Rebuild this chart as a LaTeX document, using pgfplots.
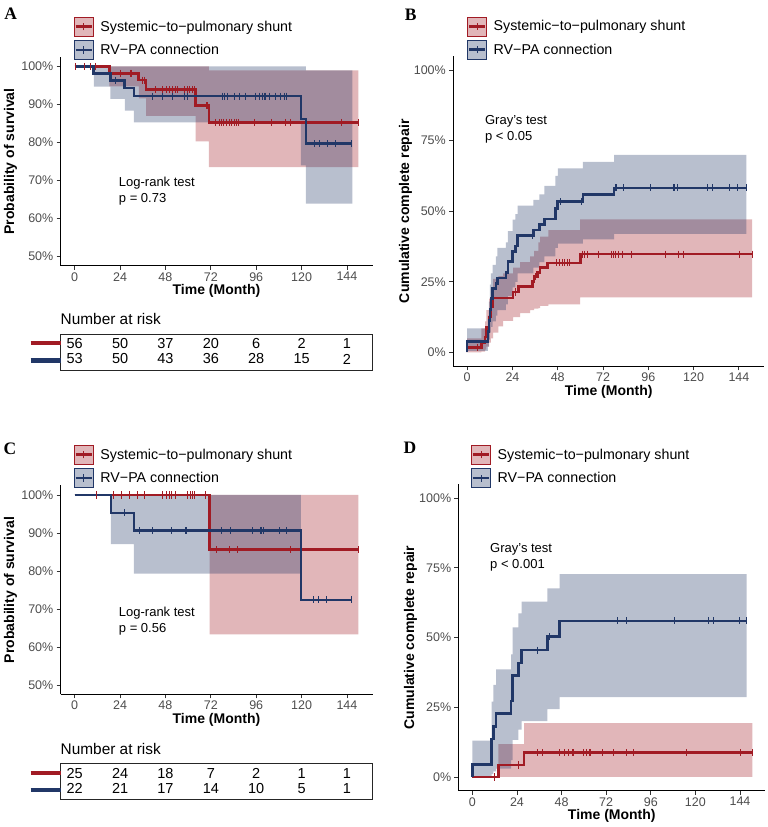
\documentclass[border=0pt]{standalone}
\usepackage{fontspec}
\setmainfont{Liberation Sans}
\newfontfamily\letterfont{Liberation Serif}
\usepackage{pgfplots}
\usepackage{pgfplotstable}
\pgfplotsset{compat=1.18}
\usepgfplotslibrary{fillbetween}

\definecolor{cRed}{RGB}{161,27,36}
\definecolor{cBlue}{RGB}{33,55,103}
\definecolor{tickgray}{RGB}{77,77,77}

% ---------- Panel A: overall survival ----------
\pgfplotstableread{
t S
0 1
18.4 0.982
33.9 0.964
37.8 0.939
63.9 0.897
71.0 0.853
150 0.853
}\kmAred
\pgfplotstableread{
t lo up
0 1 1
18.4 0.948 1
33.9 0.916 1
37.8 0.870 1
63.9 0.803 1
71.0 0.735 0.99
150 0.735 0.99
}\ciAred
\pgfplotstableread{
t S
0 1
10.1 0.981
18.9 0.963
26.5 0.943
31.3 0.922
119.6 0.862
122.3 0.797
146.9 0.797
}\kmAblue
\pgfplotstableread{
t lo up
0 1 1
10.1 0.947 1
18.9 0.915 1
26.5 0.884 1
31.3 0.853 1
119.6 0.74 1
122.3 0.639 0.99
146.9 0.639 0.99
}\ciAblue
\pgfplotstableread{
t S
0.3 1
5.3 1
8.1 1
10.8 1
24.2 0.982
29.5 0.982
30.2 0.982
35.7 0.964
37.0 0.964
42.7 0.939
46.6 0.939
48.4 0.939
50.2 0.939
51.6 0.939
53.3 0.939
54.2 0.939
57.8 0.939
59.5 0.939
60.8 0.939
62.2 0.939
63.1 0.939
69.6 0.897
70.4 0.897
74.5 0.853
76.3 0.853
77.7 0.853
78.9 0.853
80.4 0.853
81.6 0.853
83.0 0.853
84.3 0.853
85.5 0.853
86.6 0.853
94.9 0.853
104.2 0.853
111.3 0.853
114.3 0.853
141.3 0.853
150 0.853
}\cenAred
\pgfplotstableread{
t S
21.6 0.963
40.9 0.922
46.3 0.922
51.6 0.922
57.8 0.922
59.5 0.922
78.1 0.922
79.0 0.922
80.8 0.922
84.3 0.922
87.0 0.922
90.5 0.922
95.8 0.922
97.5 0.922
99.3 0.922
100.2 0.922
101.1 0.922
102.9 0.922
106.4 0.922
109.0 0.922
110.8 0.922
112.0 0.922
126.6 0.797
129.3 0.797
133.7 0.797
138.1 0.797
146.6 0.797
}\cenAblue
\pgfplotstableread{
t red blue
0 56 53
24 50 50
48 37 43
72 20 36
96 6 28
120 2 15
144 1 2
}\riskA

% ---------- Panel B: cumulative complete repair ----------
\pgfplotstableread{
t F
0 0
0 0.018
7.5 0.036
9.5 0.054
10.2 0.09
11.6 0.126
12.6 0.162
13.5 0.193
24.3 0.214
27.1 0.234
34.6 0.252
35.5 0.268
37.2 0.283
38.7 0.30
42.6 0.317
60.2 0.348
151 0.348
}\kmBred
\pgfplotstableread{
t lo up
0 0 0.05
7.5 0.003 0.085
9.5 0.01 0.11
10.2 0.02 0.15
11.6 0.035 0.19
12.6 0.05 0.225
13.8 0.07 0.26
16.5 0.092 0.27
19.1 0.112 0.28
24.4 0.125 0.30
28 0.139 0.32
33.3 0.15 0.34
35.5 0.155 0.36
37.7 0.157 0.39
38.7 0.165 0.41
43 0.17 0.433
59.9 0.195 0.471
151 0.195 0.471
}\ciBred
\pgfplotstableread{
t F
0 0
0 0.038
11 0.075
11.5 0.113
12 0.151
12.6 0.19
13.5 0.227
15.2 0.245
16 0.264
20.5 0.283
21.6 0.321
24.1 0.358
25.5 0.377
26.7 0.415
35.1 0.434
38.3 0.453
40.9 0.472
46.8 0.51
48 0.534
61.3 0.56
77.9 0.583
148 0.583
}\kmBblue
\pgfplotstableread{
t lo up
0 0.005 0.085
11 0.02 0.13
11.5 0.045 0.18
12 0.07 0.24
12.6 0.09 0.28
13.5 0.11 0.31
15.2 0.13 0.34
16 0.15 0.37
20.5 0.17 0.39
21.6 0.20 0.43
24.1 0.23 0.47
25.5 0.25 0.49
26.7 0.28 0.52
35.1 0.30 0.54
38.3 0.32 0.56
40.9 0.34 0.59
46.8 0.37 0.625
48 0.385 0.652
61.3 0.40 0.675
77.9 0.42 0.70
148 0.42 0.70
}\ciBblue
\pgfplotstableread{
t F
5.5 0.018
25.5 0.214
36.0 0.268
47.2 0.317
49.0 0.317
50.4 0.317
51.6 0.317
52.9 0.317
54.3 0.317
61.2 0.348
62.3 0.348
63.5 0.348
69.5 0.348
76.3 0.348
77.6 0.348
78.8 0.348
80.2 0.348
82.5 0.348
86.8 0.348
104.9 0.348
112.0 0.348
114.6 0.348
144.4 0.348
151 0.348
}\cenBred
\pgfplotstableread{
t F
34.5 0.415
49.2 0.534
60.8 0.534
78.6 0.583
79.3 0.583
82.9 0.583
97.1 0.583
109.1 0.583
109.8 0.583
111.2 0.583
127.2 0.583
129.8 0.583
139.2 0.583
143.1 0.583
148 0.583
}\cenBblue

% ---------- Panel C: subgroup survival ----------
\pgfplotstableread{
t S
0 1
71.4 0.856
150 0.856
}\kmCred
\pgfplotstableread{
t lo up
0 1 1
71.4 0.633 1
150 0.633 1
}\ciCred
\pgfplotstableread{
t S
0 1
19.2 0.953
31.3 0.906
119.6 0.724
146.9 0.724
}\kmCblue
\pgfplotstableread{
t lo up
0 1 1
19.2 0.871 1
31.3 0.793 1
119.6 0.793 1
}\ciCblue
\pgfplotstableread{
t S
11.5 1
20.3 1
24.7 1
29.1 1
33.0 1
37.1 1
46.6 1
48.4 1
50.2 1
51.2 1
53.4 1
59.5 1
61.0 1
62.2 1
63.1 1
69.3 1
74.9 0.856
82.0 0.856
86.0 0.856
114.0 0.856
150 0.856
}\cenCred
\pgfplotstableread{
t S
26.3 0.953
34.1 0.906
41.0 0.906
51.2 0.906
58.7 0.906
59.0 0.906
77.5 0.906
82.5 0.906
94.0 0.906
98.0 0.906
98.7 0.906
99.6 0.906
108.1 0.906
112.2 0.906
126.3 0.724
129.0 0.724
133.2 0.724
146.6 0.724
}\cenCblue
\pgfplotstableread{
t red blue
0 25 22
24 24 21
48 18 17
72 7 14
96 2 10
120 1 5
144 1 1
}\riskC

% ---------- Panel D: subgroup cumulative complete repair ----------
\pgfplotstableread{
t F
0 0
14 0.043
27.8 0.087
150.6 0.087
}\kmDred
\pgfplotstableread{
t lo up
0 0 0
14 0 0.118
27.8 0 0.193
150.6 0 0.193
}\ciDred
\pgfplotstableread{
t F
0 0
0 0.045
10.4 0.136
11.3 0.182
12.8 0.227
20.8 0.273
21.7 0.364
24.8 0.409
26.5 0.455
40.3 0.503
47 0.56
147.6 0.56
}\kmDblue
\pgfplotstableread{
t lo up
0 0 0.13
10.4 0.01 0.27
11.3 0.02 0.33
12.8 0.03 0.386
20.8 0.06 0.44
21.7 0.133 0.537
24.8 0.17 0.587
26.5 0.2 0.629
40.3 0.243 0.677
47 0.286 0.728
147.6 0.286 0.728
}\ciDblue
\pgfplotstableread{
t F
11.8 0
24.8 0.043
35 0.087
37.7 0.087
46.8 0.087
49.5 0.087
51.6 0.087
53.8 0.087
54.5 0.087
59.7 0.087
61.5 0.087
62.9 0.087
63.6 0.087
69.9 0.087
75.8 0.087
82.9 0.087
86.7 0.087
115.1 0.087
144.4 0.087
150.6 0.087
}\cenDred
\pgfplotstableread{
t F
35 0.455
41.6 0.503
78 0.56
82.9 0.56
108.9 0.56
126.8 0.56
129.6 0.56
143.5 0.56
147.6 0.56
}\cenDblue

\pgfplotsset{
  kmbase/.style={
    scale only axis,
    xmin=-7.5, xmax=157.5,
    axis lines=left,
    axis line style={-, line width=1pt, black},
    tick align=outside,
    major tick length=4bp,
    tick style={line width=0.9pt, black!80},
    xtick={0,24,48,72,96,120,144},
    xticklabels={0,24,48,72,96,120,144},
    tick label style={font=\fontsize{12.5bp}{15bp}\selectfont, text=tickgray},
    xticklabel style={anchor=north, inner sep=0pt, yshift=-2.2bp},
    yticklabel style={anchor=east, inner sep=0pt, xshift=-3bp},
    legend style={draw=none, fill=none, anchor=north west, inner sep=0pt,
      outer sep=0pt, row sep=4bp, column sep=7bp,
      font=\fontsize{14.25bp}{17bp}\selectfont, nodes={inner sep=0pt}},
    legend cell align=left,
  },
  survaxis/.style={kmbase, width=312bp, height=209bp, ymin=0.475, ymax=1.025,
    ytick={0.5,0.6,0.7,0.8,0.9,1},
    yticklabels={50\%,60\%,70\%,80\%,90\%,100\%}},
  ciaxis/.style={kmbase, ymin=-0.05, ymax=1.05,
    ytick={0,0.25,0.5,0.75,1},
    yticklabels={0\%,25\%,50\%,75\%,100\%}},
  kmline/.style={const plot, line width=2.6pt},
  band/.style={draw=none, fill opacity=0.32},
  cens/.style={only marks, mark=|, mark size=3.6bp, mark options={line width=0.9pt}},
  keyred/.style={legend image code/.code={
    \fill[cRed, fill opacity=0.32] (0bp,-9.5bp) rectangle (19bp,9.5bp);
    \draw[cRed, line width=2.6pt] (1.5bp,0bp) -- (17.5bp,0bp);
    \draw[cRed, line width=0.9pt] (9.5bp,-3.6bp) -- (9.5bp,3.6bp);}},
  keyblue/.style={legend image code/.code={
    \fill[cBlue, fill opacity=0.32] (0bp,-9.5bp) rectangle (19bp,9.5bp);
    \draw[cBlue, line width=2.6pt] (1.5bp,0bp) -- (17.5bp,0bp);
    \draw[cBlue, line width=0.9pt] (9.5bp,-3.6bp) -- (9.5bp,3.6bp);}},
  riskbox/.style={scale only axis, width=312bp, height=36bp,
    xmin=-7.5, xmax=157.5, ymin=0, ymax=36, xtick=\empty, ytick=\empty,
    axis line style={line width=0.9pt, black!85}, clip=false},
  risknum/.style={draw=none, mark=none, nodes near coords,
    point meta=explicit symbolic, nodes near coords align={center},
    every node near coord/.append style={anchor=center, inner sep=0pt, text=black,
      font=\fontsize{14.5bp}{17bp}\selectfont}},
}

\newcommand{\axtitle}{\bfseries\fontsize{14bp}{17bp}\selectfont}
\newcommand{\notefont}{\fontsize{13bp}{16bp}\selectfont}
\newcommand{\panelfont}{\letterfont\bfseries\fontsize{17.5bp}{20bp}\selectfont}

\begin{document}
\begin{tikzpicture}

% ===== A =====
\begin{axis}[survaxis, name=A, at={(60.5bp,561bp)}, anchor=south west,
  legend style={at={(axis description cs:0.0433,1.1914)}}]
  \addlegendimage{keyred}\addlegendentry{Systemic−to−pulmonary shunt}
  \addlegendimage{keyblue}\addlegendentry{RV−PA connection}
  \addplot[kmline, cRed] table[x=t, y=S] {\kmAred};
  \addplot[kmline, cBlue] table[x=t, y=S] {\kmAblue};
  \addplot[draw=none, const plot, name path=arU] table[x=t, y=up] {\ciAred};
  \addplot[draw=none, const plot, name path=arL] table[x=t, y=lo] {\ciAred};
  \addplot[band, fill=cRed] fill between[of=arU and arL];
  \addplot[draw=none, const plot, name path=abU] table[x=t, y=up] {\ciAblue};
  \addplot[draw=none, const plot, name path=abL] table[x=t, y=lo] {\ciAblue};
  \addplot[band, fill=cBlue] fill between[of=abU and abL];
  \addplot[cens, cRed] table[x=t, y=S] {\cenAred};
  \addplot[cens, cBlue] table[x=t, y=S] {\cenAblue};
  \node[anchor=north west, inner sep=0pt, align=left, font=\notefont]
    at (axis cs:23.3,0.709) {Log-rank test\\p = 0.73};
\end{axis}
\node[rotate=90, font=\axtitle] at ([xshift=-50bp]A.west) {Probability of survival};
\node[font=\axtitle] at ([yshift=-25bp]A.south) {Time (Month)};
\node[font=\panelfont] at (10.8bp,812.8bp) {A};

\begin{axis}[riskbox, name=rA, at={(60.5bp,457bp)}, anchor=south west]
  \addplot[cRed, line width=4.3bp] coordinates {(-23.3,27) (-7.5,27)};
  \addplot[cBlue, line width=4.3bp] coordinates {(-23.3,9.5) (-7.5,9.5)};
  \addplot[risknum] table[x=t, y expr=26.5, meta=red] {\riskA};
  \addplot[risknum] table[x=t, y expr=11, meta=blue] {\riskA};
\end{axis}
\node[anchor=west, inner sep=0pt, font=\fontsize{15.4bp}{18bp}\selectfont]
  at ([yshift=14.5bp]rA.north west) {Number at risk};

% ===== B =====
\begin{axis}[ciaxis, name=B, at={(453bp,460.5bp)}, anchor=south west,
  width=311.4bp, height=310.5bp,
  legend style={at={(axis description cs:0.0459,1.1266)}}]
  \addlegendimage{keyred}\addlegendentry{Systemic−to−pulmonary shunt}
  \addlegendimage{keyblue}\addlegendentry{RV−PA connection}
  \addplot[kmline, cRed] table[x=t, y=F] {\kmBred};
  \addplot[kmline, cBlue] table[x=t, y=F] {\kmBblue};
  \addplot[draw=none, const plot, name path=brU] table[x=t, y=up] {\ciBred};
  \addplot[draw=none, const plot, name path=brL] table[x=t, y=lo] {\ciBred};
  \addplot[band, fill=cRed] fill between[of=brU and brL];
  \addplot[draw=none, const plot, name path=bbU] table[x=t, y=up] {\ciBblue};
  \addplot[draw=none, const plot, name path=bbL] table[x=t, y=lo] {\ciBblue};
  \addplot[band, fill=cBlue] fill between[of=bbU and bbL];
  \addplot[cens, cRed] table[x=t, y=F] {\cenBred};
  \addplot[cens, cBlue] table[x=t, y=F] {\cenBblue};
  \node[anchor=north west, inner sep=0pt, align=left, font=\notefont]
    at (axis cs:9.4,0.84) {Gray's test\\p < 0.05};
\end{axis}
\node[rotate=90, font=\axtitle] at ([xshift=-47.5bp]B.west) {Cumulative complete repair};
\node[font=\axtitle] at ([yshift=-25bp]B.south) {Time (Month)};
\node[font=\panelfont] at (410.7bp,812.5bp) {B};

% ===== C =====
\begin{axis}[survaxis, name=C, at={(60.5bp,132.5bp)}, anchor=south west,
  legend style={at={(axis description cs:0.0433,1.1938)}}]
  \addlegendimage{keyred}\addlegendentry{Systemic−to−pulmonary shunt}
  \addlegendimage{keyblue}\addlegendentry{RV−PA connection}
  \addplot[kmline, cRed] table[x=t, y=S] {\kmCred};
  \addplot[kmline, cBlue] table[x=t, y=S] {\kmCblue};
  \addplot[draw=none, const plot, name path=crU] table[x=t, y=up] {\ciCred};
  \addplot[draw=none, const plot, name path=crL] table[x=t, y=lo] {\ciCred};
  \addplot[band, fill=cRed] fill between[of=crU and crL];
  \addplot[draw=none, const plot, name path=cbU] table[x=t, y=up] {\ciCblue};
  \addplot[draw=none, const plot, name path=cbL] table[x=t, y=lo] {\ciCblue};
  \addplot[band, fill=cBlue] fill between[of=cbU and cbL];
  \addplot[cens, cRed] table[x=t, y=S] {\cenCred};
  \addplot[cens, cBlue] table[x=t, y=S] {\cenCblue};
  \node[anchor=north west, inner sep=0pt, align=left, font=\notefont]
    at (axis cs:23.3,0.705) {Log-rank test\\p = 0.56};
\end{axis}
\node[rotate=90, font=\axtitle] at ([xshift=-50bp]C.west) {Probability of survival};
\node[font=\axtitle] at ([yshift=-25bp]C.south) {Time (Month)};
\node[font=\panelfont] at (10bp,378bp) {C};

\begin{axis}[riskbox, name=rC, at={(60.5bp,27.7bp)}, anchor=south west]
  \addplot[cRed, line width=4.3bp] coordinates {(-23.3,26.5) (-7.5,26.5)};
  \addplot[cBlue, line width=4.3bp] coordinates {(-23.3,9.5) (-7.5,9.5)};
  \addplot[risknum] table[x=t, y expr=25.7, meta=red] {\riskC};
  \addplot[risknum] table[x=t, y expr=10.7, meta=blue] {\riskC};
\end{axis}
\node[anchor=west, inner sep=0pt, font=\fontsize{15.4bp}{18bp}\selectfont]
  at ([yshift=14.3bp]rC.north west) {Number at risk};

% ===== D =====
\begin{axis}[ciaxis, name=D, at={(458.4bp,36.1bp)}, anchor=south west,
  width=306.7bp, height=306.6bp,
  legend style={at={(axis description cs:0.042,1.128)}}]
  \addlegendimage{keyred}\addlegendentry{Systemic−to−pulmonary shunt}
  \addlegendimage{keyblue}\addlegendentry{RV−PA connection}
  \addplot[kmline, cRed] table[x=t, y=F] {\kmDred};
  \addplot[kmline, cBlue] table[x=t, y=F] {\kmDblue};
  \addplot[draw=none, const plot, name path=drU] table[x=t, y=up] {\ciDred};
  \addplot[draw=none, const plot, name path=drL] table[x=t, y=lo] {\ciDred};
  \addplot[band, fill=cRed] fill between[of=drU and drL];
  \addplot[draw=none, const plot, name path=dbU] table[x=t, y=up] {\ciDblue};
  \addplot[draw=none, const plot, name path=dbL] table[x=t, y=lo] {\ciDblue};
  \addplot[band, fill=cBlue] fill between[of=dbU and dbL];
  \addplot[cens, cRed] table[x=t, y=F] {\cenDred};
  \addplot[cens, cBlue] table[x=t, y=F] {\cenDblue};
  \node[anchor=north west, inner sep=0pt, align=left, font=\notefont]
    at (axis cs:9.5,0.8385) {Gray's test\\p < 0.001};
\end{axis}
\node[rotate=90, font=\axtitle] at ([xshift=-48bp]D.west) {Cumulative complete repair};
\node[font=\axtitle] at ([yshift=-25bp]D.south) {Time (Month)};
\node[font=\panelfont] at (410bp,379.5bp) {D};

% fix the canvas to the full figure size
\pgfresetboundingbox
\path[use as bounding box] (0,0) rectangle (768bp,827bp);
\end{tikzpicture}
\end{document}
